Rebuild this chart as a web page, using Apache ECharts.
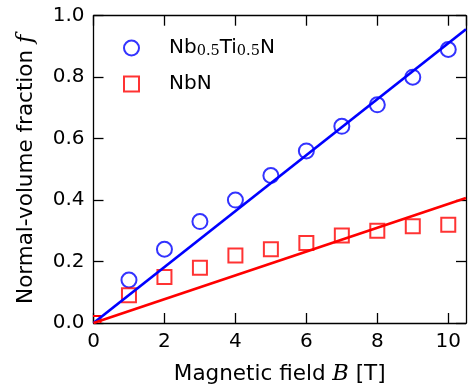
<!DOCTYPE html>
<html>
<head>
<meta charset="utf-8">
<script src="https://cdn.jsdelivr.net/npm/echarts@6/dist/echarts.min.js"></script>
<style>
  html, body { margin: 0; padding: 0; background: #fff; }
  #main { width: 468px; height: 386px; }
</style>
</head>
<body>
<div id="main"></div>
<script>
// 磁场 B [T]
const fieldB = [1, 2, 3, 4, 5, 6, 7, 8, 9, 10]
const fracNbTiN = [0.14, 0.24, 0.33, 0.40, 0.48, 0.56, 0.64, 0.71, 0.80, 0.89]
const fracNbN = [0.09, 0.15, 0.18, 0.22, 0.24, 0.26, 0.285, 0.30, 0.315, 0.32]
// origin point of NbN (half outside the frame)
const nbnOrigin = [[0, 0]]
// fitted lines, end points
const fitB = [0, 10.5]
const fitNbTiN = [0, 0.956]
const fitNbN = [0, 0.407]
const xTicks = [0, 2, 4, 6, 8, 10]
const yTicks = [0, 0.2, 0.4, 0.6, 0.8, 1.0]

const pairs = (xs, ys) => xs.map((x, i) => [x, ys[i]])

const chart = echarts.init(document.getElementById('main'))

const frame = { show: true, onZero: false, lineStyle: { color: '#000', width: 1.3 } }
const tickIn = { show: true, inside: true, length: 10, lineStyle: { color: '#000', width: 1.3 } }
const labelFont = { color: '#000', fontSize: 20, fontFamily: 'DejaVu Sans' }
const titleFont = {
  color: '#000', fontSize: 21.5, fontFamily: 'DejaVu Sans',
  rich: { it: { fontSize: 22.5, fontFamily: 'DejaVu Serif', fontStyle: 'italic' } }
}

const option = {
  animation: false,
  grid: { left: 93.5, right: 2, top: 15.7, bottom: 63, outerBoundsMode: 'none', containLabel: false },
  legend: {
    orient: 'vertical',
    left: 118,
    top: 32,
    itemWidth: 15,
    itemHeight: 15,
    itemGap: 14,
    data: ['NbTiN', 'NbN'],
    formatter: name => name === 'NbTiN' ? 'Nb{sub|0.5}Ti{sub|0.5}N' : 'NbN',
    textStyle: {
      color: '#000',
      fontSize: 20,
      fontFamily: 'DejaVu Sans',
      padding: [0, 0, 0, 25],
      lineHeight: 22,
      rich: {
        sub: { fontSize: 14.5, fontFamily: 'DejaVu Serif', verticalAlign: 'bottom', lineHeight: 12 }
      }
    }
  },
  xAxis: [
    {
      type: 'value',
      min: 0,
      max: 10.5,
      interval: 2,
      name: 'Magnetic field {it|B} [T]',
      nameLocation: 'middle',
      nameGap: 40,
      nameTextStyle: titleFont,
      axisLine: frame,
      axisTick: tickIn,
      axisLabel: Object.assign({ margin: 9, showMaxLabel: false, formatter: v => xTicks.includes(v) ? String(v) : '' }, labelFont),
      splitLine: { show: false }
    },
    {
      type: 'value',
      position: 'top',
      min: 0,
      max: 10.5,
      interval: 2,
      axisLine: frame,
      axisTick: tickIn,
      axisLabel: { show: false },
      splitLine: { show: false }
    }
  ],
  yAxis: [
    {
      type: 'value',
      min: 0,
      max: 1,
      interval: 0.2,
      name: 'Normal-volume fraction {it|f}',
      nameLocation: 'middle',
      nameGap: 56,
      nameTextStyle: titleFont,
      axisLine: frame,
      axisTick: tickIn,
      axisLabel: Object.assign({ margin: 9, formatter: v => v.toFixed(1) }, labelFont),
      splitLine: { show: false }
    },
    {
      type: 'value',
      position: 'right',
      min: 0,
      max: 1,
      interval: 0.2,
      axisLine: frame,
      axisTick: tickIn,
      axisLabel: { show: false },
      splitLine: { show: false }
    }
  ],
  series: [
    {
      name: 'NbTiN',
      type: 'scatter',
      z: 2,
      symbol: 'circle',
      symbolSize: 15,
      itemStyle: { color: 'rgba(0,0,0,0)', borderColor: '#0000ff', borderWidth: 2 },
      data: pairs(fieldB, fracNbTiN)
    },
    {
      name: 'NbN',
      type: 'scatter',
      z: 2,
      symbol: 'rect',
      symbolSize: 14,
      itemStyle: { color: 'rgba(0,0,0,0)', borderColor: '#ff0000', borderWidth: 2 },
      data: pairs(fieldB, fracNbN)
    },
    {
      name: 'NbN origin',
      type: 'custom',
      z: 2,
      clip: true,
      data: nbnOrigin,
      renderItem: (params, api) => {
        const p = api.coord([api.value(0), api.value(1)])
        return {
          type: 'rect',
          shape: { x: p[0] - 7, y: p[1] - 7, width: 14, height: 14 },
          style: { fill: 'none', stroke: '#ff0000', lineWidth: 2 }
        }
      }
    },
    {
      name: 'fit NbTiN',
      type: 'line',
      z: 3,
      symbol: 'none',
      clip: true,
      lineStyle: { color: '#0000ff', width: 2.7 },
      data: pairs(fitB, fitNbTiN)
    },
    {
      name: 'fit NbN',
      type: 'line',
      z: 3,
      symbol: 'none',
      clip: true,
      lineStyle: { color: '#ff0000', width: 2.7 },
      data: pairs(fitB, fitNbN)
    }
  ]
}

chart.setOption(option)
</script>
</body>
</html>
